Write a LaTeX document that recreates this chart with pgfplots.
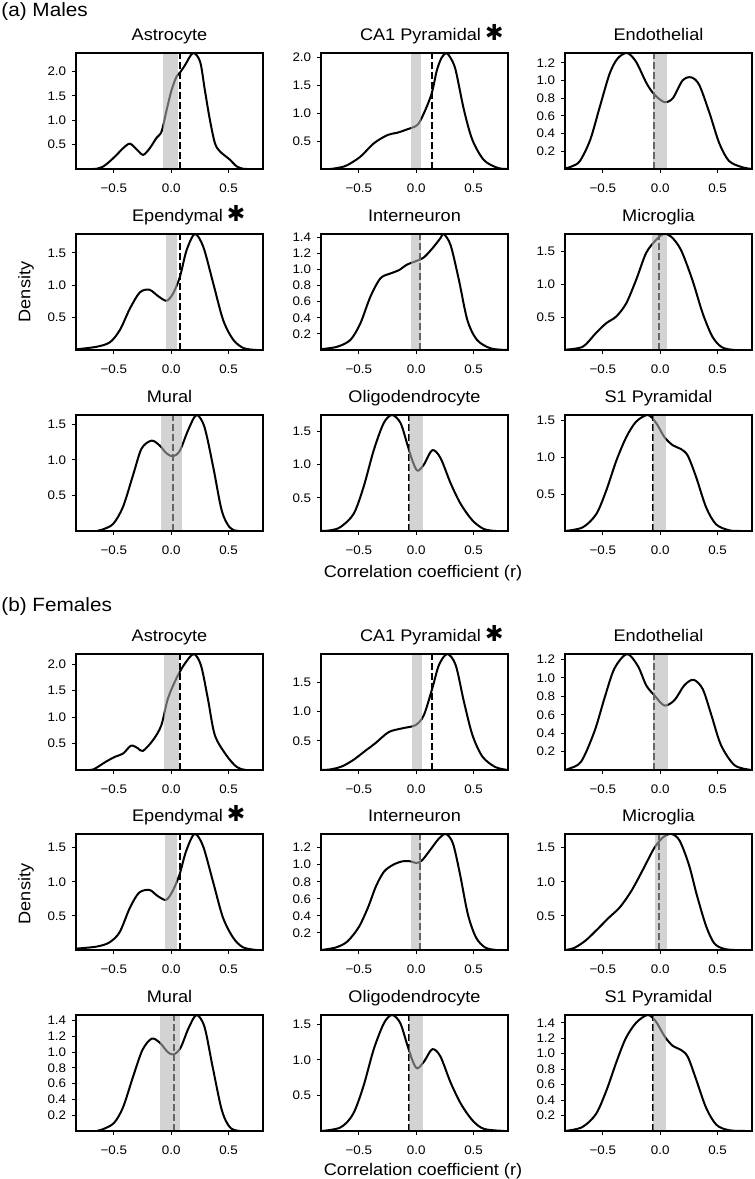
\documentclass[border=0pt]{standalone}
\usepackage{fontspec}
\setmainfont{Liberation Sans}[FakeStretch=1.08]
\newfontfamily\djv{DejaVu Sans}
\usepackage{pgfplots}
\pgfplotsset{compat=1.18}
\newcommand\sigast{\rlap{\hspace{2pt}{\djv\fontsize{11}{11}\selectfont ✱}}}
\pgfplotsset{
 panel/.style={
  anchor=north west, scale only axis, width=93.5pt, height=58pt,
  xmin=-0.83, xmax=0.80, ymin=0,
  axis on top, axis line style={line width=1pt},
  xtick={-0.5,0,0.5}, xticklabels={−0.5,0.0,0.5},
  tick align=outside, major tick length=2pt,
  tick style={line width=0.5pt, black},
  xtick pos=bottom, ytick pos=left,
  ticklabel style={font=\fontsize{6.2}{7}\selectfont},
  xticklabel style={yshift=-2pt},
  yticklabel style={xshift=0.6pt, /pgf/number format/.cd, fixed, fixed zerofill, precision=1, assume math mode=true},
  title style={font=\fontsize{8.4}{9}\selectfont, at={(0.5,1)}, anchor=base, yshift=0.5pt},
 },
 curve/.style={line width=1pt, black, smooth, line join=round},
 dline/.style={line width=1pt, black, dash pattern=on 3.3pt off 1.7pt},
 band/.style={draw=none, fill=black!30, fill opacity=0.57},
}
% #1 x px, #2 y px, #3 title opts, #4 ymax, #5 yticks, #6 band lo, #7 band hi, #8 dashed x, #9 coords
\newcommand\panel[9]{%
\begin{axis}[panel, at={(#1*0.5pt,-#2*0.5pt)}, #3, ymax=#4, ytick={#5}]
\addplot[curve] coordinates {#9};
\addplot[dline] coordinates {(#8,0) (#8,#4)};
\addplot[band] coordinates {(#6,0) (#6,#4) (#7,#4) (#7,0)} -- cycle;
\end{axis}}
\begin{document}
\begin{tikzpicture}
\path[use as bounding box] (0,0) rectangle (377.5pt,-589.5pt);
\node[anchor=base west, inner sep=0pt, font=\fontsize{9.6}{11}\selectfont] at (0.5pt,-8.3pt) {(a) Males};
\node[anchor=base west, inner sep=0pt, font=\fontsize{9.6}{11}\selectfont] at (0.5pt,-305.8pt) {(b) Females};
\node[rotate=90, font=\fontsize{8.4}{9}\selectfont] at (13pt,-146pt) {Density};
\node[rotate=90, font=\fontsize{8.4}{9}\selectfont] at (13pt,-447pt) {Density};
\node[anchor=base, font=\fontsize{8.4}{9}\selectfont] at (211.5pt,-288.5pt) {Correlation coefficient (r)};
\node[anchor=base, font=\fontsize{8.4}{9}\selectfont] at (211.5pt,-587.5pt) {Correlation coefficient (r)};
% ---------------- Males ----------------
\panel{76}{53}{title={Astrocyte}}{2.38}{0.5,1,1.5,2}{-0.07}{0.06}{0.076}{(-0.83,0) (-0.72,0) (-0.65,0.005) (-0.59,0.055) (-0.534,0.16) (-0.476,0.29) (-0.418,0.43) (-0.36,0.52) (-0.30,0.40) (-0.244,0.29) (-0.186,0.43) (-0.128,0.64) (-0.084,0.77) (-0.04,1.21) (0.003,1.62) (0.047,1.9) (0.08,1.99) (0.12,2.13) (0.19,2.38) (0.252,2.2) (0.293,1.62) (0.337,1.01) (0.381,0.53) (0.425,0.36) (0.512,0.19) (0.57,0.055) (0.627,0.005) (0.7,0) (0.8,0)}
\panel{321}{53}{title={CA1 Pyramidal\sigast}, title style={xshift=3pt}}{2.08}{0.5,1,1.5,2}{-0.044}{0.044}{0.134}{(-0.83,0) (-0.75,0) (-0.66,0.03) (-0.60,0.07) (-0.487,0.22) (-0.37,0.46) (-0.25,0.61) (-0.166,0.65) (-0.08,0.71) (0.01,0.79) (0.067,1.0) (0.134,1.35) (0.18,1.77) (0.22,1.99) (0.262,2.08) (0.30,1.99) (0.344,1.77) (0.416,1.06) (0.49,0.52) (0.59,0.16) (0.71,0.02) (0.8,0)}
\panel{565}{53}{title={Endothelial}}{1.31}{0.2,0.4,0.6,0.8,1,1.2}{-0.064}{0.057}{-0.05}{(-0.83,0.005) (-0.77,0.03) (-0.70,0.09) (-0.61,0.33) (-0.525,0.71) (-0.44,1.08) (-0.37,1.25) (-0.288,1.31) (-0.21,1.21) (-0.12,0.97) (-0.05,0.84) (0.037,0.755) (0.11,0.80) (0.195,1.0) (0.27,1.035) (0.34,0.95) (0.43,0.63) (0.515,0.29) (0.60,0.09) (0.715,0.02) (0.8,0)}
\panel{76}{234}{title={Ependymal\sigast}, title style={xshift=4pt}}{1.79}{0.5,1,1.5}{-0.049}{0.047}{0.076}{(-0.83,0.01) (-0.65,0.05) (-0.534,0.12) (-0.447,0.31) (-0.36,0.64) (-0.273,0.89) (-0.19,0.93) (-0.113,0.83) (-0.04,0.76) (0.017,0.875) (0.076,1.13) (0.134,1.54) (0.206,1.79) (0.28,1.59) (0.366,1.03) (0.453,0.46) (0.54,0.16) (0.63,0.03) (0.74,0) (0.8,0)}
\panel{321}{234}{title={Interneuron}}{1.44}{0.2,0.4,0.6,0.8,1,1.2,1.4}{-0.044}{0.044}{0.029}{(-0.83,0.01) (-0.69,0.04) (-0.574,0.125) (-0.487,0.33) (-0.40,0.66) (-0.312,0.89) (-0.225,0.95) (-0.152,0.99) (-0.08,1.06) (0.01,1.11) (0.067,1.15) (0.14,1.26) (0.212,1.39) (0.24,1.44) (0.30,1.30) (0.372,0.87) (0.446,0.37) (0.53,0.125) (0.65,0.02) (0.8,0)}
\panel{565}{234}{title={Microglia}}{1.77}{0.5,1,1.5}{-0.073}{0.06}{-0.012}{(-0.83,0.005) (-0.675,0.05) (-0.56,0.26) (-0.47,0.41) (-0.384,0.51) (-0.297,0.71) (-0.21,1.07) (-0.123,1.48) (-0.036,1.68) (0.03,1.77) (0.095,1.73) (0.18,1.53) (0.28,1.07) (0.37,0.56) (0.456,0.20) (0.54,0.04) (0.65,0) (0.8,0)}
\panel{76}{415}{title={Mural}}{1.63}{0.5,1,1.5}{-0.092}{0.09}{0.017}{(-0.83,0) (-0.65,0) (-0.60,0.02) (-0.506,0.10) (-0.42,0.34) (-0.33,0.80) (-0.258,1.16) (-0.17,1.27) (-0.10,1.20) (-0.04,1.09) (0.017,1.05) (0.076,1.13) (0.148,1.42) (0.22,1.63) (0.29,1.46) (0.366,0.90) (0.44,0.29) (0.51,0.05) (0.59,0) (0.8,0)}
\panel{321}{415}{title={Oligodendrocyte}}{1.75}{0.5,1,1.5}{-0.065}{0.058}{-0.065}{(-0.83,0) (-0.75,0.01) (-0.66,0.06) (-0.545,0.26) (-0.458,0.67) (-0.37,1.22) (-0.283,1.63) (-0.21,1.75) (-0.137,1.63) (-0.08,1.32) (-0.035,1.07) (0.01,0.91) (0.066,1.0) (0.14,1.22) (0.212,1.10) (0.30,0.72) (0.387,0.41) (0.49,0.16) (0.59,0.03) (0.7,0) (0.8,0)}
\panel{565}{415}{title={S1 Pyramidal}}{1.57}{0.5,1,1.5}{-0.064}{0.052}{-0.064}{(-0.83,0) (-0.675,0.05) (-0.557,0.23) (-0.47,0.55) (-0.383,0.95) (-0.296,1.27) (-0.21,1.48) (-0.108,1.57) (-0.035,1.46) (0.037,1.27) (0.11,1.16) (0.18,1.11) (0.24,1.02) (0.313,0.73) (0.40,0.32) (0.487,0.09) (0.60,0.01) (0.7,0) (0.8,0)}
% ---------------- Females ----------------
\panel{76}{654}{title={Astrocyte}}{2.19}{0.5,1,1.5,2}{-0.067}{0.064}{0.08}{(-0.83,0) (-0.75,0) (-0.68,0.01) (-0.567,0.16) (-0.49,0.25) (-0.42,0.31) (-0.35,0.46) (-0.29,0.41) (-0.247,0.36) (-0.16,0.56) (-0.087,0.84) (-0.03,1.34) (0.043,1.72) (0.116,2.0) (0.197,2.19) (0.26,1.97) (0.32,1.34) (0.38,0.66) (0.48,0.28) (0.57,0.06) (0.65,0) (0.8,0)}
\panel{321}{654}{title={CA1 Pyramidal\sigast}, title style={xshift=3pt}}{1.99}{0.5,1,1.5}{-0.04}{0.05}{0.14}{(-0.83,0) (-0.75,0.01) (-0.65,0.06) (-0.55,0.17) (-0.45,0.32) (-0.356,0.46) (-0.24,0.65) (-0.122,0.715) (-0.006,0.77) (0.066,0.94) (0.14,1.40) (0.198,1.80) (0.27,1.99) (0.344,1.80) (0.416,1.17) (0.49,0.6) (0.577,0.23) (0.69,0.05) (0.8,0)}
\panel{565}{654}{title={Endothelial}}{1.26}{0.2,0.4,0.6,0.8,1,1.2}{-0.064}{0.066}{-0.05}{(-0.83,0) (-0.805,0.01) (-0.69,0.09) (-0.573,0.42) (-0.486,0.78) (-0.40,1.10) (-0.29,1.26) (-0.195,1.13) (-0.122,0.92) (-0.05,0.81) (0.037,0.70) (0.125,0.76) (0.21,0.92) (0.29,0.98) (0.37,0.88) (0.445,0.60) (0.53,0.27) (0.65,0.05) (0.8,0)}
\panel{76}{834}{title={Ependymal\sigast}, title style={xshift=4pt}}{1.70}{0.5,1,1.5}{-0.05}{0.05}{0.08}{(-0.83,0.02) (-0.65,0.05) (-0.54,0.11) (-0.45,0.26) (-0.36,0.62) (-0.28,0.84) (-0.19,0.88) (-0.117,0.79) (-0.044,0.735) (0.014,0.87) (0.073,1.11) (0.13,1.45) (0.203,1.70) (0.276,1.53) (0.363,1.01) (0.45,0.48) (0.54,0.18) (0.625,0.04) (0.74,0) (0.8,0)}
\panel{321}{834}{title={Interneuron}}{1.36}{0.2,0.4,0.6,0.8,1,1.2}{-0.045}{0.045}{0.03}{(-0.83,0) (-0.7,0.03) (-0.6,0.1) (-0.5,0.27) (-0.42,0.5) (-0.35,0.75) (-0.28,0.92) (-0.2,1.0) (-0.12,1.04) (-0.05,1.04) (0.0,1.02) (0.05,1.05) (0.12,1.17) (0.2,1.31) (0.26,1.36) (0.32,1.25) (0.38,0.9) (0.45,0.42) (0.52,0.15) (0.6,0.03) (0.7,0) (0.8,0)}
\panel{565}{834}{title={Microglia}}{1.70}{0.5,1,1.5}{-0.045}{0.06}{-0.01}{(-0.83,0) (-0.75,0.03) (-0.65,0.14) (-0.55,0.3) (-0.45,0.47) (-0.35,0.63) (-0.25,0.87) (-0.15,1.18) (-0.05,1.5) (0.03,1.66) (0.1,1.70) (0.17,1.6) (0.25,1.25) (0.32,0.8) (0.4,0.35) (0.47,0.1) (0.55,0.02) (0.65,0) (0.8,0)}
\panel{76}{1015}{title={Mural}}{1.47}{0.2,0.4,0.6,0.8,1,1.2,1.4}{-0.1}{0.08}{0.02}{(-0.83,0) (-0.65,0) (-0.6,0.02) (-0.5,0.1) (-0.42,0.3) (-0.33,0.7) (-0.25,1.03) (-0.17,1.17) (-0.1,1.12) (-0.03,1.0) (0.02,0.97) (0.08,1.05) (0.15,1.3) (0.22,1.47) (0.29,1.32) (0.36,0.82) (0.44,0.27) (0.51,0.05) (0.6,0) (0.8,0)}
\panel{321}{1015}{title={Oligodendrocyte}}{1.63}{0.5,1,1.5}{-0.065}{0.058}{-0.065}{(-0.83,0) (-0.66,0.05) (-0.55,0.24) (-0.46,0.63) (-0.37,1.15) (-0.28,1.52) (-0.21,1.63) (-0.14,1.52) (-0.08,1.22) (-0.03,0.98) (0.01,0.88) (0.07,0.98) (0.14,1.15) (0.21,1.05) (0.3,0.68) (0.39,0.38) (0.49,0.15) (0.59,0.03) (0.77,0) (0.8,0)}
\panel{565}{1015}{title={S1 Pyramidal}}{1.50}{0.2,0.4,0.6,0.8,1,1.2,1.4}{-0.064}{0.052}{-0.064}{(-0.83,0) (-0.68,0.05) (-0.56,0.22) (-0.47,0.52) (-0.38,0.9) (-0.3,1.2) (-0.21,1.4) (-0.11,1.5) (-0.04,1.42) (0.04,1.22) (0.11,1.1) (0.18,1.05) (0.24,0.96) (0.31,0.68) (0.4,0.3) (0.49,0.08) (0.6,0.01) (0.75,0) (0.8,0)}
\end{tikzpicture}
\end{document}
